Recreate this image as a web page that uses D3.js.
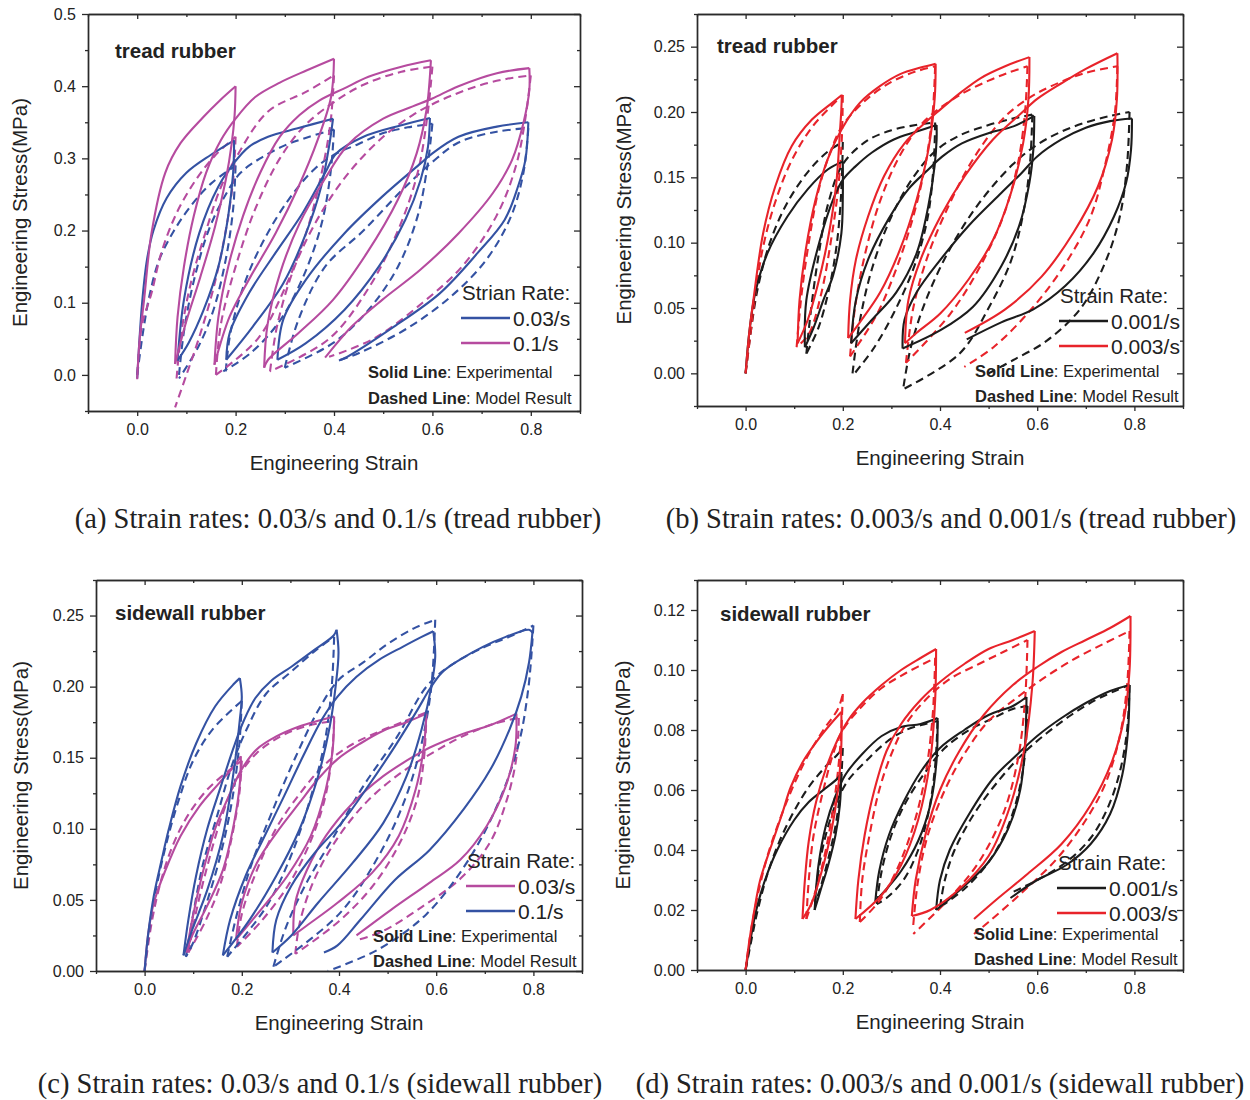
<!DOCTYPE html>
<html><head><meta charset="utf-8">
<script src="https://cdn.jsdelivr.net/npm/d3@7"></script>
<style>
html,body{margin:0;padding:0;background:#fff;}
svg text{font-family:"Liberation Sans",Arial,sans-serif;fill:#222;}
</style></head>
<body>
<svg id="chart" width="1250" height="1100"></svg>
<script>
// ---------- DATA (strain, stress in MPa); each series = list of segments ----------
// Panel (a) tread rubber, 0.03/s (blue) and 0.1/s (magenta)
const aBlueExp = [
 [[0,-0.005],[0.01,0.1],[0.02,0.16],[0.033,0.2],[0.06,0.245],[0.1,0.28],[0.15,0.305],[0.197,0.325]],
 [[0.197,0.325],[0.195,0.28],[0.185,0.22],[0.165,0.15],[0.135,0.09],[0.105,0.045],[0.082,0.02]],
 [[0.082,0.02],[0.095,0.104],[0.126,0.196],[0.165,0.261],[0.196,0.293],[0.227,0.316],[0.266,0.33],[0.328,0.342],[0.398,0.355]],
 [[0.398,0.355],[0.391,0.321],[0.374,0.261],[0.343,0.196],[0.297,0.127],[0.235,0.067],[0.181,0.021]],
 [[0.181,0.021],[0.188,0.058],[0.227,0.113],[0.281,0.169],[0.336,0.224],[0.382,0.28],[0.405,0.307],[0.46,0.33],[0.537,0.346],[0.595,0.356]],
 [[0.595,0.356],[0.591,0.316],[0.576,0.27],[0.545,0.215],[0.491,0.15],[0.421,0.09],[0.343,0.044],[0.285,0.021]],
 [[0.285,0.021],[0.297,0.077],[0.343,0.132],[0.421,0.196],[0.498,0.247],[0.576,0.293],[0.6,0.307],[0.653,0.33],[0.731,0.344],[0.795,0.35]],
 [[0.795,0.35],[0.789,0.298],[0.774,0.261],[0.747,0.215],[0.692,0.169],[0.615,0.113],[0.522,0.067],[0.421,0.023],[0.41,0.02]]
];
const aBlueMod = [
 [[0,0],[0.012,0.06],[0.025,0.11],[0.045,0.16],[0.075,0.2],[0.11,0.235],[0.15,0.265],[0.2,0.29]],
 [[0.2,0.29],[0.195,0.23],[0.18,0.16],[0.155,0.09],[0.125,0.04],[0.085,-0.005]],
 [[0.085,0.0],[0.095,0.06],[0.115,0.13],[0.145,0.2],[0.18,0.25],[0.21,0.28],[0.25,0.3],[0.3,0.318],[0.35,0.33],[0.4,0.34]],
 [[0.4,0.34],[0.393,0.28],[0.375,0.21],[0.34,0.14],[0.29,0.075],[0.23,0.03],[0.175,0.005]],
 [[0.18,0.005],[0.19,0.06],[0.22,0.13],[0.26,0.19],[0.31,0.245],[0.36,0.285],[0.4,0.305],[0.45,0.32],[0.5,0.335],[0.55,0.343],[0.6,0.348]],
 [[0.6,0.348],[0.59,0.29],[0.57,0.22],[0.53,0.15],[0.47,0.09],[0.4,0.045],[0.3,0.01]],
 [[0.3,0.01],[0.328,0.077],[0.382,0.15],[0.46,0.2],[0.537,0.255],[0.6,0.295],[0.653,0.322],[0.731,0.337],[0.795,0.342]],
 [[0.795,0.342],[0.785,0.28],[0.76,0.22],[0.71,0.16],[0.64,0.11],[0.55,0.065],[0.45,0.03],[0.41,0.02]]
];
const aMagExp = [
 [[0,-0.006],[0.005,0.05],[0.014,0.104],[0.029,0.196],[0.057,0.28],[0.088,0.321],[0.134,0.357],[0.169,0.381],[0.2,0.4]],
 [[0.2,0.4],[0.198,0.36],[0.192,0.32],[0.18,0.27],[0.158,0.205],[0.128,0.135],[0.098,0.07],[0.077,0.015]],
 [[0.077,0.015],[0.082,0.08],[0.095,0.15],[0.115,0.22],[0.14,0.28],[0.17,0.325],[0.2,0.355],[0.24,0.385],[0.29,0.405],[0.345,0.422],[0.4,0.438]],
 [[0.4,0.438],[0.394,0.385],[0.367,0.326],[0.328,0.261],[0.281,0.196],[0.227,0.132],[0.188,0.081],[0.157,0.014]],
 [[0.157,0.014],[0.165,0.08],[0.185,0.15],[0.215,0.22],[0.25,0.28],[0.29,0.33],[0.33,0.36],[0.37,0.38],[0.421,0.397],[0.47,0.413],[0.537,0.427],[0.597,0.436]],
 [[0.597,0.436],[0.588,0.367],[0.568,0.307],[0.53,0.243],[0.467,0.169],[0.398,0.104],[0.328,0.058],[0.266,0.021],[0.258,0.01]],
 [[0.258,0.01],[0.265,0.07],[0.29,0.14],[0.33,0.21],[0.38,0.27],[0.43,0.32],[0.5,0.355],[0.56,0.372],[0.6,0.383],[0.653,0.4],[0.731,0.418],[0.797,0.425]],
 [[0.797,0.425],[0.797,0.395],[0.785,0.349],[0.762,0.298],[0.723,0.252],[0.653,0.196],[0.576,0.146],[0.498,0.104],[0.436,0.067],[0.382,0.024]]
];
const aMagMod = [
 [[0,0],[0.01,0.07],[0.029,0.113],[0.049,0.169],[0.08,0.224],[0.119,0.27],[0.157,0.303],[0.2,0.33]],
 [[0.2,0.33],[0.195,0.27],[0.18,0.2],[0.155,0.12],[0.125,0.05],[0.1,0.0],[0.077,-0.045]],
 [[0.08,-0.005],[0.09,0.06],[0.11,0.13],[0.14,0.2],[0.17,0.26],[0.2,0.3],[0.266,0.365],[0.343,0.392],[0.4,0.415]],
 [[0.4,0.415],[0.393,0.35],[0.375,0.28],[0.345,0.2],[0.3,0.12],[0.245,0.05],[0.16,0.0]],
 [[0.16,0.0],[0.17,0.07],[0.2,0.15],[0.24,0.23],[0.29,0.3],[0.34,0.345],[0.4,0.378],[0.46,0.402],[0.537,0.42],[0.6,0.427]],
 [[0.6,0.427],[0.59,0.36],[0.57,0.28],[0.53,0.2],[0.47,0.12],[0.39,0.05],[0.27,0.005]],
 [[0.27,0.005],[0.285,0.07],[0.32,0.15],[0.37,0.22],[0.43,0.28],[0.5,0.33],[0.56,0.36],[0.6,0.375],[0.65,0.39],[0.7,0.402],[0.75,0.41],[0.8,0.415]],
 [[0.8,0.415],[0.79,0.36],[0.77,0.29],[0.73,0.22],[0.66,0.15],[0.58,0.1],[0.48,0.05],[0.39,0.025]]
];
// Panel (b) tread rubber, 0.001/s (black) and 0.003/s (red)
const bBlackExp = [
 [[0,0],[0.0075,0.031],[0.02,0.062],[0.045,0.092],[0.086,0.12],[0.128,0.141],[0.169,0.156],[0.2,0.162]],
 [[0.2,0.162],[0.2,0.135],[0.197,0.107],[0.18,0.075],[0.16,0.056],[0.14,0.035],[0.122,0.02]],
 [[0.122,0.02],[0.125,0.056],[0.153,0.102],[0.18,0.133],[0.2,0.148],[0.225,0.158],[0.26,0.169],[0.305,0.179],[0.352,0.185],[0.393,0.19]],
 [[0.393,0.19],[0.393,0.179],[0.389,0.159],[0.376,0.128],[0.352,0.092],[0.31,0.062],[0.26,0.041],[0.217,0.023]],
 [[0.217,0.023],[0.227,0.056],[0.252,0.087],[0.294,0.118],[0.335,0.141],[0.376,0.156],[0.405,0.166],[0.445,0.176],[0.501,0.184],[0.551,0.189],[0.594,0.197]],
 [[0.594,0.197],[0.592,0.171],[0.584,0.146],[0.563,0.113],[0.526,0.082],[0.468,0.051],[0.401,0.033],[0.323,0.019]],
 [[0.323,0.019],[0.327,0.041],[0.352,0.062],[0.401,0.087],[0.459,0.113],[0.526,0.138],[0.567,0.153],[0.6,0.166],[0.65,0.179],[0.7,0.188],[0.75,0.193],[0.795,0.195]],
 [[0.795,0.195],[0.793,0.171],[0.783,0.146],[0.758,0.12],[0.716,0.092],[0.658,0.067],[0.592,0.049],[0.526,0.039],[0.455,0.026]]
];
const bBlackMod = [
 [[0,0],[0.01,0.03],[0.025,0.065],[0.05,0.1],[0.085,0.13],[0.13,0.155],[0.17,0.17],[0.2,0.177]],
 [[0.2,0.177],[0.197,0.14],[0.188,0.1],[0.172,0.065],[0.15,0.035],[0.125,0.015]],
 [[0.125,0.015],[0.135,0.05],[0.15,0.09],[0.17,0.13],[0.2,0.16],[0.25,0.178],[0.3,0.186],[0.35,0.19],[0.39,0.192]],
 [[0.39,0.192],[0.387,0.16],[0.375,0.12],[0.35,0.085],[0.31,0.05],[0.265,0.02],[0.22,-0.002]],
 [[0.22,0.0],[0.235,0.04],[0.26,0.08],[0.3,0.12],[0.345,0.15],[0.39,0.17],[0.44,0.182],[0.5,0.19],[0.55,0.195],[0.59,0.198]],
 [[0.59,0.198],[0.585,0.16],[0.57,0.12],[0.545,0.085],[0.5,0.05],[0.44,0.015],[0.325,-0.012]],
 [[0.325,-0.01],[0.34,0.02],[0.37,0.055],[0.42,0.095],[0.48,0.13],[0.55,0.16],[0.6,0.175],[0.65,0.185],[0.7,0.192],[0.75,0.197],[0.79,0.2]],
 [[0.79,0.2],[0.785,0.16],[0.77,0.12],[0.74,0.085],[0.69,0.05],[0.62,0.025],[0.55,0.01],[0.5,0.0]]
];
const bRedExp = [
 [[0,0],[0.0075,0.031],[0.016,0.056],[0.036,0.107],[0.061,0.143],[0.095,0.174],[0.136,0.194],[0.178,0.207],[0.198,0.213]],
 [[0.198,0.213],[0.197,0.202],[0.194,0.184],[0.186,0.143],[0.169,0.102],[0.148,0.067],[0.128,0.041],[0.107,0.023]],
 [[0.107,0.023],[0.111,0.056],[0.124,0.095],[0.144,0.133],[0.169,0.164],[0.198,0.187],[0.235,0.207],[0.277,0.22],[0.318,0.229],[0.36,0.234],[0.391,0.237]],
 [[0.391,0.237],[0.389,0.21],[0.376,0.171],[0.352,0.133],[0.318,0.095],[0.277,0.062],[0.235,0.039],[0.211,0.027]],
 [[0.211,0.027],[0.215,0.056],[0.227,0.087],[0.252,0.12],[0.285,0.151],[0.327,0.176],[0.376,0.194],[0.401,0.202],[0.443,0.215],[0.484,0.226],[0.534,0.235],[0.584,0.242]],
 [[0.584,0.242],[0.582,0.21],[0.571,0.176],[0.546,0.138],[0.509,0.102],[0.459,0.072],[0.401,0.046],[0.352,0.031],[0.328,0.023]],
 [[0.328,0.023],[0.335,0.056],[0.36,0.087],[0.401,0.12],[0.451,0.151],[0.509,0.179],[0.567,0.199],[0.6,0.21],[0.65,0.222],[0.7,0.233],[0.765,0.245]],
 [[0.765,0.245],[0.764,0.21],[0.754,0.179],[0.725,0.143],[0.675,0.108],[0.609,0.074],[0.534,0.049],[0.451,0.031]]
];
const bRedMod = [
 [[0,0],[0.01,0.03],[0.02,0.06],[0.035,0.095],[0.06,0.13],[0.095,0.163],[0.14,0.19],[0.2,0.213]],
 [[0.2,0.213],[0.198,0.18],[0.19,0.14],[0.175,0.1],[0.155,0.06],[0.13,0.03],[0.105,0.02]],
 [[0.105,0.02],[0.115,0.06],[0.13,0.1],[0.15,0.14],[0.175,0.17],[0.2,0.19],[0.25,0.21],[0.3,0.223],[0.35,0.231],[0.39,0.235]],
 [[0.39,0.235],[0.385,0.2],[0.37,0.16],[0.345,0.12],[0.31,0.08],[0.27,0.045],[0.215,0.013]],
 [[0.215,0.013],[0.225,0.05],[0.245,0.09],[0.275,0.13],[0.315,0.165],[0.36,0.19],[0.4,0.203],[0.45,0.215],[0.5,0.224],[0.54,0.23],[0.58,0.235]],
 [[0.58,0.235],[0.575,0.2],[0.56,0.16],[0.53,0.12],[0.48,0.08],[0.42,0.045],[0.33,0.008]],
 [[0.33,0.008],[0.345,0.05],[0.375,0.09],[0.42,0.13],[0.47,0.165],[0.53,0.195],[0.58,0.21],[0.63,0.22],[0.7,0.23],[0.765,0.235]],
 [[0.765,0.235],[0.76,0.2],[0.74,0.16],[0.71,0.12],[0.66,0.085],[0.59,0.05],[0.51,0.02],[0.45,0.005]]
];
// Panel (c) sidewall rubber, 0.03/s (magenta) and 0.1/s (blue)
const cMagExp = [
 [[0,0],[0.007,0.025],[0.019,0.048],[0.043,0.071],[0.074,0.095],[0.113,0.116],[0.153,0.132],[0.184,0.144],[0.198,0.151]],
 [[0.198,0.151],[0.196,0.132],[0.184,0.104],[0.161,0.071],[0.129,0.046],[0.098,0.025],[0.086,0.013]],
 [[0.086,0.013],[0.098,0.036],[0.121,0.071],[0.145,0.1],[0.176,0.125],[0.2,0.142],[0.231,0.156],[0.271,0.165],[0.318,0.172],[0.357,0.176],[0.39,0.179]],
 [[0.39,0.179],[0.387,0.156],[0.373,0.128],[0.342,0.095],[0.294,0.067],[0.239,0.043],[0.188,0.022]],
 [[0.188,0.022],[0.2,0.048],[0.231,0.076],[0.271,0.097],[0.318,0.118],[0.357,0.135],[0.397,0.149],[0.444,0.16],[0.491,0.169],[0.539,0.175],[0.58,0.181]],
 [[0.58,0.181],[0.574,0.156],[0.558,0.128],[0.523,0.095],[0.468,0.069],[0.397,0.048],[0.334,0.032],[0.306,0.025]],
 [[0.306,0.025],[0.31,0.048],[0.334,0.071],[0.373,0.095],[0.428,0.118],[0.491,0.137],[0.554,0.151],[0.586,0.157],[0.649,0.166],[0.712,0.173],[0.765,0.181]],
 [[0.765,0.181],[0.763,0.158],[0.743,0.13],[0.704,0.102],[0.649,0.078],[0.586,0.062],[0.507,0.043],[0.436,0.025]]
];
const cMagMod = [
 [[0,0],[0.015,0.035],[0.035,0.065],[0.06,0.09],[0.09,0.11],[0.13,0.128],[0.17,0.14],[0.2,0.148]],
 [[0.2,0.148],[0.195,0.125],[0.18,0.095],[0.155,0.06],[0.125,0.035],[0.09,0.013]],
 [[0.09,0.013],[0.105,0.04],[0.13,0.075],[0.16,0.11],[0.19,0.135],[0.23,0.153],[0.28,0.165],[0.33,0.172],[0.39,0.176]],
 [[0.39,0.176],[0.385,0.15],[0.37,0.12],[0.34,0.09],[0.295,0.06],[0.24,0.035],[0.19,0.017]],
 [[0.19,0.017],[0.2,0.04],[0.23,0.07],[0.27,0.1],[0.32,0.125],[0.37,0.145],[0.42,0.158],[0.48,0.168],[0.53,0.175],[0.58,0.182]],
 [[0.58,0.182],[0.575,0.15],[0.56,0.12],[0.525,0.09],[0.47,0.06],[0.4,0.035],[0.31,0.012]],
 [[0.31,0.012],[0.32,0.035],[0.35,0.065],[0.4,0.095],[0.46,0.12],[0.53,0.14],[0.6,0.155],[0.66,0.166],[0.72,0.174],[0.77,0.178]],
 [[0.77,0.178],[0.765,0.15],[0.745,0.12],[0.71,0.09],[0.65,0.065],[0.57,0.045],[0.49,0.028],[0.44,0.022]]
];
const cBlueExp = [
 [[0,0],[0.007,0.025],[0.019,0.053],[0.035,0.078],[0.05,0.1],[0.074,0.13],[0.106,0.16],[0.145,0.186],[0.184,0.202],[0.196,0.206]],
 [[0.196,0.206],[0.2,0.193],[0.196,0.177],[0.184,0.142],[0.161,0.095],[0.129,0.057],[0.098,0.029],[0.08,0.011]],
 [[0.08,0.011],[0.09,0.036],[0.106,0.067],[0.129,0.1],[0.157,0.13],[0.184,0.158],[0.204,0.176],[0.228,0.192],[0.26,0.204],[0.302,0.214],[0.35,0.226],[0.389,0.236],[0.395,0.24]],
 [[0.395,0.24],[0.399,0.224],[0.393,0.2],[0.381,0.172],[0.357,0.137],[0.318,0.099],[0.271,0.067],[0.216,0.036],[0.161,0.011]],
 [[0.161,0.011],[0.176,0.036],[0.208,0.067],[0.247,0.095],[0.287,0.123],[0.326,0.151],[0.365,0.177],[0.397,0.193],[0.436,0.207],[0.483,0.219],[0.531,0.228],[0.57,0.235],[0.594,0.239]],
 [[0.594,0.239],[0.598,0.221],[0.59,0.2],[0.57,0.17],[0.539,0.137],[0.491,0.104],[0.428,0.076],[0.357,0.048],[0.302,0.025],[0.263,0.013]],
 [[0.263,0.013],[0.271,0.036],[0.302,0.06],[0.35,0.083],[0.405,0.104],[0.46,0.13],[0.515,0.158],[0.562,0.184],[0.586,0.198],[0.612,0.21],[0.649,0.219],[0.696,0.228],[0.743,0.235],[0.791,0.24],[0.798,0.238]],
 [[0.798,0.238],[0.791,0.217],[0.775,0.193],[0.751,0.17],[0.712,0.142],[0.657,0.114],[0.586,0.085],[0.515,0.064],[0.444,0.036],[0.397,0.018],[0.369,0.013]]
];
const cBlueMod = [
 [[0,0],[0.01,0.03],[0.025,0.06],[0.045,0.09],[0.07,0.12],[0.1,0.148],[0.14,0.17],[0.2,0.19]],
 [[0.2,0.19],[0.195,0.16],[0.18,0.12],[0.155,0.08],[0.125,0.045],[0.1,0.02],[0.085,0.01]],
 [[0.085,0.01],[0.1,0.04],[0.12,0.075],[0.15,0.11],[0.18,0.145],[0.21,0.17],[0.25,0.195],[0.3,0.21],[0.35,0.225],[0.39,0.235]],
 [[0.39,0.235],[0.385,0.2],[0.37,0.16],[0.34,0.12],[0.3,0.08],[0.25,0.045],[0.17,0.01]],
 [[0.17,0.01],[0.19,0.04],[0.22,0.075],[0.26,0.11],[0.31,0.15],[0.36,0.185],[0.4,0.205],[0.45,0.217],[0.5,0.23],[0.554,0.241],[0.598,0.247]],
 [[0.598,0.247],[0.59,0.2],[0.57,0.16],[0.535,0.12],[0.48,0.08],[0.4,0.04],[0.265,0.003]],
 [[0.265,0.003],[0.29,0.03],[0.33,0.06],[0.39,0.095],[0.45,0.13],[0.52,0.165],[0.58,0.2],[0.63,0.215],[0.7,0.228],[0.75,0.235],[0.8,0.243]],
 [[0.8,0.243],[0.79,0.2],[0.77,0.16],[0.73,0.12],[0.67,0.08],[0.58,0.04],[0.48,0.015],[0.377,0.0]]
];
// Panel (d) sidewall rubber, 0.001/s (black) and 0.003/s (red)
const dBlackExp = [
 [[0,0],[0.01,0.01],[0.022,0.02],[0.04,0.03],[0.065,0.04],[0.1,0.05],[0.13,0.056],[0.16,0.06],[0.19,0.064],[0.197,0.066]],
 [[0.197,0.066],[0.194,0.055],[0.185,0.045],[0.17,0.035],[0.155,0.027],[0.142,0.02]],
 [[0.142,0.02],[0.15,0.035],[0.165,0.048],[0.185,0.058],[0.205,0.065],[0.24,0.072],[0.28,0.078],[0.32,0.081],[0.36,0.082],[0.395,0.084]],
 [[0.395,0.084],[0.393,0.07],[0.38,0.055],[0.355,0.043],[0.32,0.033],[0.29,0.027],[0.267,0.023]],
 [[0.267,0.023],[0.275,0.033],[0.295,0.045],[0.325,0.056],[0.36,0.066],[0.4,0.074],[0.45,0.08],[0.5,0.085],[0.55,0.088],[0.578,0.091]],
 [[0.578,0.091],[0.575,0.075],[0.565,0.06],[0.54,0.047],[0.5,0.036],[0.45,0.028],[0.392,0.02]],
 [[0.392,0.02],[0.4,0.03],[0.42,0.04],[0.46,0.052],[0.51,0.064],[0.56,0.072],[0.6,0.078],[0.65,0.084],[0.7,0.089],[0.75,0.093],[0.79,0.095]],
 [[0.79,0.095],[0.787,0.08],[0.775,0.065],[0.75,0.052],[0.71,0.042],[0.66,0.035],[0.6,0.03],[0.545,0.024]]
];
const dBlackMod = [
 [[0,0],[0.012,0.01],[0.025,0.02],[0.045,0.032],[0.07,0.043],[0.1,0.053],[0.13,0.061],[0.16,0.067],[0.19,0.072],[0.2,0.074]],
 [[0.2,0.074],[0.195,0.06],[0.185,0.048],[0.17,0.037],[0.155,0.028],[0.143,0.022]],
 [[0.143,0.022],[0.15,0.033],[0.165,0.045],[0.185,0.055],[0.21,0.063],[0.25,0.07],[0.29,0.076],[0.33,0.08],[0.37,0.082],[0.395,0.083]],
 [[0.395,0.083],[0.39,0.068],[0.377,0.053],[0.355,0.04],[0.325,0.03],[0.29,0.024],[0.27,0.022]],
 [[0.27,0.022],[0.28,0.033],[0.3,0.045],[0.33,0.056],[0.37,0.066],[0.41,0.074],[0.46,0.08],[0.51,0.084],[0.55,0.087],[0.58,0.088]],
 [[0.58,0.088],[0.575,0.072],[0.56,0.058],[0.535,0.046],[0.5,0.036],[0.45,0.027],[0.4,0.021]],
 [[0.4,0.021],[0.41,0.03],[0.43,0.04],[0.47,0.052],[0.52,0.063],[0.57,0.072],[0.62,0.079],[0.67,0.085],[0.72,0.09],[0.76,0.093],[0.79,0.095]],
 [[0.79,0.095],[0.785,0.08],[0.77,0.066],[0.745,0.054],[0.71,0.044],[0.66,0.036],[0.6,0.03],[0.55,0.026]]
];
const dRedExp = [
 [[0,0],[0.008,0.01],[0.017,0.019],[0.03,0.03],[0.052,0.041],[0.075,0.052],[0.093,0.061],[0.12,0.07],[0.15,0.077],[0.175,0.082],[0.197,0.086]],
 [[0.197,0.086],[0.197,0.075],[0.19,0.06],[0.175,0.045],[0.155,0.032],[0.135,0.022],[0.117,0.017]],
 [[0.117,0.017],[0.122,0.03],[0.13,0.043],[0.145,0.056],[0.165,0.067],[0.19,0.077],[0.21,0.083],[0.24,0.089],[0.28,0.095],[0.32,0.1],[0.36,0.104],[0.392,0.107]],
 [[0.392,0.107],[0.39,0.09],[0.38,0.07],[0.355,0.05],[0.32,0.035],[0.28,0.025],[0.226,0.017]],
 [[0.226,0.017],[0.232,0.03],[0.245,0.045],[0.265,0.06],[0.29,0.073],[0.32,0.082],[0.36,0.09],[0.4,0.096],[0.45,0.102],[0.5,0.107],[0.55,0.11],[0.595,0.113]],
 [[0.595,0.113],[0.59,0.095],[0.575,0.075],[0.545,0.055],[0.5,0.038],[0.44,0.027],[0.38,0.02],[0.342,0.018]],
 [[0.342,0.018],[0.35,0.03],[0.37,0.045],[0.4,0.06],[0.44,0.073],[0.49,0.085],[0.55,0.095],[0.6,0.101],[0.65,0.106],[0.7,0.11],[0.75,0.114],[0.792,0.118]],
 [[0.792,0.118],[0.79,0.1],[0.78,0.085],[0.755,0.07],[0.71,0.055],[0.65,0.042],[0.58,0.032],[0.52,0.024],[0.47,0.017]]
];
const dRedMod = [
 [[0,0],[0.01,0.012],[0.025,0.025],[0.045,0.038],[0.07,0.05],[0.1,0.062],[0.13,0.072],[0.16,0.08],[0.19,0.087],[0.2,0.092]],
 [[0.2,0.092],[0.195,0.075],[0.183,0.057],[0.165,0.04],[0.145,0.027],[0.125,0.017]],
 [[0.125,0.017],[0.13,0.03],[0.14,0.045],[0.16,0.06],[0.18,0.072],[0.2,0.08],[0.24,0.088],[0.28,0.094],[0.33,0.099],[0.39,0.104]],
 [[0.39,0.104],[0.385,0.085],[0.37,0.065],[0.345,0.048],[0.31,0.033],[0.275,0.023],[0.235,0.016]],
 [[0.235,0.016],[0.24,0.03],[0.255,0.045],[0.275,0.06],[0.3,0.072],[0.33,0.082],[0.37,0.09],[0.42,0.097],[0.48,0.102],[0.53,0.106],[0.58,0.11]],
 [[0.58,0.11],[0.575,0.09],[0.56,0.07],[0.53,0.052],[0.48,0.036],[0.42,0.024],[0.345,0.012]],
 [[0.345,0.015],[0.355,0.03],[0.375,0.045],[0.41,0.06],[0.45,0.072],[0.5,0.083],[0.56,0.091],[0.62,0.098],[0.68,0.104],[0.74,0.109],[0.79,0.113]],
 [[0.79,0.113],[0.785,0.095],[0.77,0.078],[0.74,0.062],[0.7,0.05],[0.64,0.037],[0.57,0.026],[0.5,0.016],[0.47,0.012]]
];

// ---------- tick / label values ----------
const xMajor = [0, 0.2, 0.4, 0.6, 0.8];
const xMinor = [-0.1, 0.1, 0.3, 0.5, 0.7, 0.9];
const aYMajor = [0, 0.1, 0.2, 0.3, 0.4, 0.5];
const aYMinor = [-0.05, 0.05, 0.15, 0.25, 0.35, 0.45];
const bYMajor = [0, 0.05, 0.10, 0.15, 0.20, 0.25];
const bYMinor = [-0.025, 0.025, 0.075, 0.125, 0.175, 0.225, 0.275];
const cYMajor = [0, 0.05, 0.10, 0.15, 0.20, 0.25];
const cYMinor = [0.025, 0.075, 0.125, 0.175, 0.225, 0.275];
const dYMajor = [0, 0.02, 0.04, 0.06, 0.08, 0.10, 0.12];
const dYMinor = [0.01, 0.03, 0.05, 0.07, 0.09, 0.11, 0.13];

const aRates = ["0.03/s", "0.1/s"];
const bRates = ["0.001/s", "0.003/s"];
const cRates = ["0.03/s", "0.1/s"];
const dRates = ["0.001/s", "0.003/s"];
const captions = [
 "(a) Strain rates: 0.03/s and 0.1/s (tread rubber)",
 "(b) Strain rates: 0.003/s and 0.001/s (tread rubber)",
 "(c) Strain rates: 0.03/s and 0.1/s (sidewall rubber)",
 "(d) Strain rates: 0.003/s and 0.001/s (sidewall rubber)"
];

// ---------- styling ----------
const BLUE = "#3452a3", MAG = "#b64b9f", RED = "#e8232a", BLACK = "#1c1c1c";

const svg = d3.select("#chart");

const panels = [
 {id:"a", left:88, right:580, top:14, bottom:411, xDom:[-0.1,0.9], yDom:[-0.05,0.5], yMajor:aYMajor, yMinor:aYMinor, yFmt:".1f",
  title:"tread rubber", titleX:115, titleY:58, ytX:20,
  series:[{d:aBlueMod,c:BLUE,dash:true},{d:aMagMod,c:MAG,dash:true},{d:aBlueExp,c:BLUE},{d:aMagExp,c:MAG}],
  legendTitle:"Strian Rate:", rates:aRates, rateColors:[BLUE,MAG], legX:461, legTitleY:300, legY1:318, legY2:343, noteX:368, noteY1:378, noteY2:404,
  caption:captions[0], capX:338, capY:528},
 {id:"b", left:697, right:1183, top:14, bottom:406, xDom:[-0.1,0.9], yDom:[-0.025,0.275], yMajor:bYMajor, yMinor:bYMinor, yFmt:".2f",
  title:"tread rubber", titleX:717, titleY:53, ytX:624,
  series:[{d:bBlackMod,c:BLACK,dash:true},{d:bRedMod,c:RED,dash:true},{d:bBlackExp,c:BLACK},{d:bRedExp,c:RED}],
  legendTitle:"Strain Rate:", rates:bRates, rateColors:[BLACK,RED], legX:1059, legTitleY:303, legY1:321, legY2:346, noteX:975, noteY1:377, noteY2:402,
  caption:captions[1], capX:951, capY:528},
 {id:"c", left:96, right:582, top:580, bottom:971, xDom:[-0.1,0.9], yDom:[0,0.275], yMajor:cYMajor, yMinor:cYMinor, yFmt:".2f",
  title:"sidewall rubber", titleX:115, titleY:620, ytX:21,
  series:[{d:cMagMod,c:MAG,dash:true},{d:cBlueMod,c:BLUE,dash:true},{d:cMagExp,c:MAG},{d:cBlueExp,c:BLUE}],
  legendTitle:"Strain Rate:", rates:cRates, rateColors:[MAG,BLUE], legX:466, legTitleY:868, legY1:886, legY2:911, noteX:373, noteY1:942, noteY2:967,
  caption:captions[2], capX:320, capY:1093},
 {id:"d", left:697, right:1183, top:580, bottom:970, xDom:[-0.1,0.9], yDom:[0,0.13], yMajor:dYMajor, yMinor:dYMinor, yFmt:".2f",
  title:"sidewall rubber", titleX:720, titleY:621, ytX:623,
  series:[{d:dBlackMod,c:BLACK,dash:true},{d:dRedMod,c:RED,dash:true},{d:dBlackExp,c:BLACK},{d:dRedExp,c:RED}],
  legendTitle:"Strain Rate:", rates:dRates, rateColors:[BLACK,RED], legX:1057, legTitleY:870, legY1:888, legY2:913, noteX:974, noteY1:940, noteY2:965,
  caption:captions[3], capX:940, capY:1093}
];

const AX = "#2a2a2a";

panels.forEach(p => {
  const g = svg.append("g");
  const x = d3.scaleLinear().domain(p.xDom).range([p.left, p.right]);
  const y = d3.scaleLinear().domain(p.yDom).range([p.bottom, p.top]);

  const clipId = "clip-" + p.id;
  svg.append("clipPath").attr("id", clipId).append("rect")
    .attr("x", p.left).attr("y", p.top).attr("width", p.right - p.left).attr("height", p.bottom - p.top);

  // curves
  const line = d3.line().x(d => x(d[0])).y(d => y(d[1])).curve(d3.curveCatmullRom.alpha(0.5));
  const cg = g.append("g").attr("clip-path", `url(#${clipId})`);
  p.series.forEach(s => {
    s.d.forEach(seg => {
      cg.append("path").attr("d", line(seg)).attr("fill", "none")
        .attr("stroke", s.c).attr("stroke-width", 2.1)
        .attr("stroke-linejoin", "round").attr("stroke-linecap", "butt")
        .attr("stroke-dasharray", s.dash ? "8,5" : null);
    });
  });

  // axes
  const styleAxis = sel => {
    sel.selectAll(".domain").attr("stroke", AX).attr("stroke-width", 1.4);
    sel.selectAll(".tick line").attr("stroke", AX).attr("stroke-width", 1.3);
    sel.selectAll(".tick text").attr("font-size", 16).attr("fill", "#222")
      .attr("font-family", "'Liberation Sans', Arial, sans-serif");
  };
  const fx = d3.format(".1f"), fy = d3.format(p.yFmt);
  g.append("g").attr("transform", `translate(0,${p.bottom})`)
    .call(d3.axisBottom(x).tickValues(xMajor).tickFormat(fx).tickSize(5).tickSizeOuter(0).tickPadding(8)).call(styleAxis);
  g.append("g").attr("transform", `translate(0,${p.bottom})`)
    .call(d3.axisBottom(x).tickValues(xMinor).tickFormat("").tickSize(3).tickSizeOuter(0)).call(styleAxis);
  g.append("g").attr("transform", `translate(0,${p.top})`)
    .call(d3.axisTop(x).tickValues(xMajor).tickFormat("").tickSize(-5).tickSizeOuter(0)).call(styleAxis);
  g.append("g").attr("transform", `translate(0,${p.top})`)
    .call(d3.axisTop(x).tickValues(xMinor).tickFormat("").tickSize(-3).tickSizeOuter(0)).call(styleAxis);
  g.append("g").attr("transform", `translate(${p.left},0)`)
    .call(d3.axisLeft(y).tickValues(p.yMajor).tickFormat(fy).tickSize(6).tickSizeOuter(0).tickPadding(6)).call(styleAxis);
  g.append("g").attr("transform", `translate(${p.left},0)`)
    .call(d3.axisLeft(y).tickValues(p.yMinor).tickFormat("").tickSize(3).tickSizeOuter(0)).call(styleAxis);
  g.append("g").attr("transform", `translate(${p.right},0)`)
    .call(d3.axisRight(y).tickValues(p.yMajor).tickFormat("").tickSize(-6).tickSizeOuter(0)).call(styleAxis);
  g.append("g").attr("transform", `translate(${p.right},0)`)
    .call(d3.axisRight(y).tickValues(p.yMinor).tickFormat("").tickSize(-3).tickSizeOuter(0)).call(styleAxis);

  // axis titles
  g.append("text").attr("x", (p.left + p.right) / 2).attr("y", p.bottom + 59)
    .attr("text-anchor", "middle").attr("font-size", 20.5).text("Engineering Strain");
  g.append("text").attr("transform", `translate(${p.ytX + 7},${(p.top + p.bottom) / 2}) rotate(-90)`)
    .attr("text-anchor", "middle").attr("font-size", 20.5).text("Engineering Stress(MPa)");

  // panel title
  g.append("text").attr("x", p.titleX).attr("y", p.titleY).attr("font-size", 20.5)
    .attr("font-weight", "bold").text(p.title);

  // legend
  g.append("text").attr("x", p.legX + 1).attr("y", p.legTitleY).attr("font-size", 20.5).text(p.legendTitle);
  [p.legY1, p.legY2].forEach((ly, i) => {
    g.append("line").attr("x1", p.legX).attr("x2", p.legX + 49).attr("y1", ly).attr("y2", ly)
      .attr("stroke", p.rateColors[i]).attr("stroke-width", 2.6);
    g.append("text").attr("x", p.legX + 52).attr("y", ly + 7.5).attr("font-size", 21).text(p.rates[i]);
  });
  const n1 = g.append("text").attr("x", p.noteX).attr("y", p.noteY1).attr("font-size", 16.5);
  n1.append("tspan").attr("font-weight", "bold").text("Solid Line");
  n1.append("tspan").text(": Experimental");
  const n2 = g.append("text").attr("x", p.noteX).attr("y", p.noteY2).attr("font-size", 16.5);
  n2.append("tspan").attr("font-weight", "bold").text("Dashed Line");
  n2.append("tspan").text(": Model Result");

  // caption
  svg.append("text").attr("x", p.capX).attr("y", p.capY).attr("text-anchor", "middle")
    .attr("font-size", 28.5).style("font-family", "'Liberation Serif','Times New Roman',serif").attr("fill", "#111")
    .text(p.caption);
});
</script>
</body></html>
